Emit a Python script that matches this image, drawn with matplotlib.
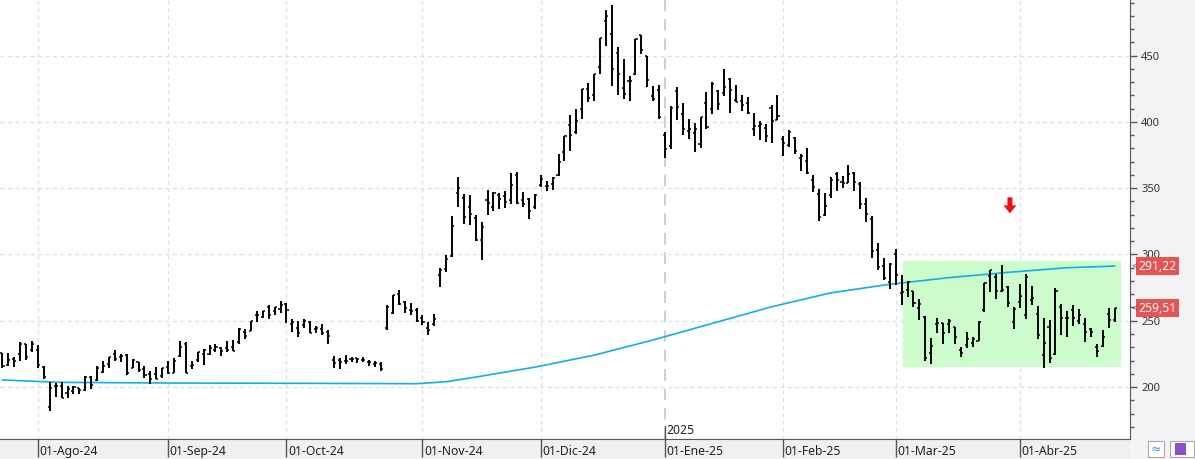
import numpy as np
import pandas as pd
import matplotlib
matplotlib.use("Agg")
import matplotlib.pyplot as plt
import matplotlib.transforms as mtransforms
from matplotlib.patches import Rectangle, Polygon

plt.rcParams["font.family"] = ["Noto Sans", "DejaVu Sans"]

# Daily bars, 24-Jul-2024 .. 24-Apr-2025 (trading days only)
holidays = ["2024-09-02", "2024-11-28", "2024-12-25", "2025-01-01",
            "2025-01-09", "2025-01-20", "2025-02-17", "2025-04-18"]
dates = pd.bdate_range("2024-07-24", "2025-04-24")
dates = dates[~dates.isin(pd.to_datetime(holidays))]

opens = [
    225.4, 216.8, 221.2, 224.9, 232.3, 227.9,
    227.7, 214.9, 185.2, 200.8, 200.8, 195.7, 197.1, 199.0, 198.0, 207.4, 205.0,
    211.2, 217.1, 224.9, 222.7, 223.8, 214.5, 218.8, 213.3, 209.7, 209.8, 208.6,
    215.3, 210.6, 223.5, 232.6, 216.2, 220.1, 224.6, 224.7, 228.0, 229.3, 229.5,
    230.1, 234.0, 241.5, 242.6, 254.1, 252.5, 260.6, 257.4, 259.0,
    262.7, 247.6, 244.5, 246.7, 249.0, 243.6, 243.8, 241.8, 220.1, 220.1, 220.0,
    221.4, 222.0, 220.7, 218.9, 217.3, 217.1, 244.7, 256.0, 270.0, 264.5, 258.0, 258.0,
    252.0, 244.6, 247.3, 284.7, 288.9, 299.1, 346.3, 342.7, 335.9, 327.7, 310.6,
    340.7, 335.5, 345.0, 343.8, 341.1, 360.1, 341.0, 341.8, 336.1,
    352.4, 351.8, 353.0, 359.9, 377.4, 397.6, 392.7, 409.7, 424.8, 420.0, 441.1,
    475.9, 466.5, 451.9, 425.5, 431.0, 435.9, 465.2, 449.5, 419.4, 423.8,
    390.1, 381.5, 423.2, 405.8, 393.0, 391.4, 383.2, 414.3, 409.9, 423.5, 421.5,
    432.6, 416.8, 416.1, 414.5, 394.8, 396.9, 395.2, 410.8, 401.5,
    386.7, 382.6, 387.5, 373.0, 370.2, 356.2, 345.8, 329.9, 345.0, 360.6, 355.0,
    354.0, 361.5, 353.4, 338.1, 327.0, 303.7, 291.2, 279.5,
    300.3, 270.9, 272.9, 272.1, 259.3, 252.5, 225.3, 247.2, 248.1, 247.3, 245.1,
    228.2, 231.6, 233.4, 235.0, 258.1, 283.6, 282.7, 272.5, 275.6, 249.3,
    263.8, 254.6, 265.3, 255.4, 223.8, 245.0, 224.7, 260.0, 251.8, 258.4, 249.9,
    247.6, 243.5, 230.3, 231.0, 254.9, 250.5,
]
highs = [
    226.0, 226.0, 222.3, 234.3, 232.4, 234.7,
    231.9, 216.1, 203.9, 202.9, 203.5, 200.7, 200.7, 199.3, 208.5, 208.4, 215.9,
    219.8, 222.9, 228.2, 224.7, 225.0, 221.5, 219.1, 215.7, 211.8, 214.9, 214.6,
    219.9, 222.2, 235.0, 233.6, 219.9, 226.4, 228.5, 231.5, 232.7, 230.0, 234.6,
    235.7, 244.2, 244.0, 250.0, 257.2, 257.1, 261.8, 260.7, 264.9,
    263.0, 251.2, 249.8, 251.0, 249.8, 246.2, 247.4, 242.8, 223.3, 221.9, 224.0,
    222.8, 222.1, 222.3, 220.5, 219.7, 218.7, 262.1, 269.5, 273.5, 265.0, 263.4, 259.8,
    254.0, 248.9, 255.3, 289.6, 299.8, 328.7, 358.6, 345.8, 344.6, 330.0, 324.7,
    348.6, 347.4, 346.6, 348.0, 361.5, 361.9, 347.0, 342.6, 345.5,
    360.0, 355.7, 358.1, 375.4, 389.5, 404.8, 409.7, 424.9, 429.3, 436.3, 463.2,
    484.0, 488.5, 456.4, 447.1, 434.5, 462.8, 465.3, 450.0, 427.0, 427.9,
    392.7, 411.9, 426.4, 414.3, 402.5, 399.3, 403.8, 422.6, 429.8, 424.0, 439.7,
    433.2, 428.0, 420.0, 418.9, 406.7, 400.6, 398.6, 412.5, 420.0,
    389.2, 394.0, 388.4, 375.4, 380.6, 360.0, 349.4, 346.4, 358.7, 362.0, 359.1,
    367.3, 362.3, 355.0, 342.4, 328.9, 309.0, 297.2, 293.9,
    303.9, 284.4, 279.6, 272.7, 266.3, 253.4, 237.1, 251.8, 248.3, 251.6, 245.4,
    230.1, 241.7, 238.0, 249.5, 278.6, 288.2, 284.9, 291.9, 276.1, 260.6,
    277.5, 285.0, 276.3, 261.0, 252.0, 250.4, 274.7, 262.5, 257.7, 261.8, 258.8,
    251.9, 244.3, 232.2, 242.8, 259.5, 259.5,
]
lows = [
    214.7, 216.2, 215.3, 220.0, 220.4, 226.6,
    214.3, 205.9, 182.0, 192.1, 191.5, 192.0, 195.0, 194.7, 197.1, 198.8, 204.8,
    210.8, 214.1, 219.6, 218.9, 209.4, 214.2, 211.0, 206.9, 202.6, 206.0, 207.0,
    209.6, 210.6, 222.3, 210.5, 213.7, 218.6, 216.8, 223.8, 226.3, 223.5, 226.6,
    226.9, 232.1, 235.9, 241.9, 249.1, 252.3, 251.5, 254.1, 255.8,
    248.5, 241.5, 237.8, 244.6, 240.7, 240.6, 239.5, 232.3, 214.4, 213.7, 217.1,
    218.9, 217.9, 219.0, 215.7, 215.2, 212.1, 242.7, 255.3, 262.2, 255.5, 254.5, 249.3,
    246.6, 238.9, 246.2, 275.6, 287.0, 297.7, 336.0, 323.3, 322.5, 310.4, 296.0,
    330.0, 332.8, 334.3, 335.3, 338.2, 338.2, 335.7, 326.6, 334.0,
    351.2, 348.2, 348.6, 359.5, 370.8, 378.0, 390.9, 402.4, 415.0, 415.7, 436.0,
    457.5, 427.0, 420.0, 417.6, 415.4, 435.1, 451.1, 426.5, 415.8, 402.5,
    373.0, 379.5, 401.7, 390.0, 387.4, 377.3, 380.1, 394.5, 405.7, 409.1, 419.8,
    406.3, 414.6, 408.0, 405.7, 389.0, 386.5, 384.5, 384.4, 401.3,
    374.4, 381.4, 375.5, 363.2, 360.3, 347.0, 325.1, 329.1, 342.9, 347.5, 350.0,
    353.7, 348.0, 334.4, 324.7, 297.3, 288.0, 280.9, 273.6,
    277.3, 261.8, 267.7, 260.0, 250.7, 220.0, 217.0, 241.1, 232.6, 240.7, 232.8,
    222.3, 229.2, 230.1, 234.6, 256.3, 271.3, 266.5, 271.8, 260.6, 243.4,
    259.3, 251.3, 261.5, 236.0, 214.3, 217.8, 223.9, 239.3, 237.6, 245.9, 247.5,
    233.9, 237.7, 222.8, 229.9, 244.4, 249.2,
]
closes = [
    216.0, 220.3, 219.8, 232.1, 222.6, 232.1,
    216.9, 207.7, 198.9, 200.6, 191.8, 198.8, 200.0, 197.5, 207.8, 201.4, 214.1,
    216.1, 222.7, 221.1, 223.3, 210.7, 220.3, 213.2, 209.2, 205.8, 206.3, 214.1,
    210.6, 219.4, 230.2, 210.7, 216.3, 226.2, 228.1, 229.8, 230.3, 226.8, 227.9,
    227.2, 243.9, 238.3, 250.0, 254.3, 257.0, 254.2, 260.5, 261.6,
    258.0, 249.0, 240.7, 250.1, 240.8, 244.5, 241.1, 238.8, 217.8, 219.2, 219.6,
    221.3, 220.9, 220.7, 218.9, 218.0, 213.7, 260.5, 269.2, 262.5, 259.5, 257.6, 249.9,
    249.0, 242.8, 251.4, 288.5, 296.9, 321.2, 350.0, 328.5, 330.2, 311.2, 320.7,
    338.7, 346.0, 342.0, 339.6, 352.6, 338.6, 338.2, 332.9, 345.2,
    357.1, 351.4, 357.9, 369.5, 389.2, 389.8, 401.0, 424.8, 418.1, 436.2, 463.0,
    479.9, 440.1, 436.2, 421.1, 430.6, 462.3, 454.1, 431.7, 417.4, 403.8,
    379.3, 410.4, 411.1, 394.4, 394.9, 394.7, 403.3, 396.4, 428.2, 413.8, 426.5,
    424.1, 415.1, 412.4, 406.6, 397.2, 398.1, 389.1, 400.3, 404.6,
    383.7, 392.2, 378.2, 374.3, 361.6, 350.7, 328.5, 336.5, 355.9, 355.8, 354.1,
    360.6, 354.4, 337.8, 330.5, 302.8, 290.8, 282.0, 293.0,
    284.7, 272.0, 279.1, 263.5, 262.7, 222.2, 230.6, 248.1, 240.7, 250.0, 238.0,
    225.3, 235.9, 236.3, 248.7, 278.4, 288.1, 272.1, 273.1, 263.6, 259.2,
    268.5, 282.8, 267.3, 239.4, 233.3, 221.9, 272.2, 252.4, 252.3, 252.4, 254.1,
    241.6, 241.4, 227.5, 238.0, 250.7, 259.5,
]

# moving average (blue line) read at a few bar positions
ma_idx = [0, 10, 30, 50, 70, 75, 80, 90, 100, 110, 120, 130, 140, 150, 160, 170, 180, 188]
ma_val = [205.3, 203.5, 203.0, 202.8, 202.5, 204.0, 207.5, 215.0, 224.0, 235.5,
          248.0, 260.5, 271.0, 277.5, 282.5, 286.5, 290.0, 291.2]

last_labels = [291.22, 259.51]
meses = ["Ene", "Feb", "Mar", "Abr", "May", "Jun", "Jul", "Ago", "Sep", "Oct", "Nov", "Dic"]

assert len(dates) == len(opens) == len(highs) == len(lows) == len(closes)

x = np.arange(len(dates))
fig = plt.figure(figsize=(11.95, 4.59), dpi=100)
fig.patch.set_facecolor("#f3f3f6")
# bottom band
fig.patches.append(Rectangle((0, 0), 1130 / 1195, 20 / 459, transform=fig.transFigure,
                             facecolor="#f0f0f0", edgecolor="none", zorder=-5))

ax = fig.add_axes([0, 20 / 459, 1130 / 1195, 439 / 459])
ax.set_facecolor("white")
ax.set_xlim(-0.42, 190.6)
ax.set_ylim(160.8, 491.9)

# grid
for v in range(200, 451, 50):
    ax.axhline(v, color="#dedede", lw=0.9, dashes=(3, 3), zorder=1)

month_pos = [i for i in range(1, len(dates)) if dates[i].month != dates[i - 1].month]
for i in month_pos:
    if dates[i].month == 1:
        ax.axvline(i, color="#cfcfcf", lw=1.4, dashes=(6, 4), zorder=1)
    else:
        ax.axvline(i, color="#dedede", lw=0.9, dashes=(3, 3), zorder=1)

# highlight zone
ax.add_patch(Rectangle((152.2, 215.0), 36.9, 80.0, facecolor="#ccfccc",
                       edgecolor="none", zorder=1.5))

# ohlc bars
ax.vlines(x, lows, highs, color="black", lw=1.4, zorder=3)
ax.hlines(opens, x - 0.35, x, color="black", lw=1.1, zorder=3)
ax.hlines(closes, x, x + 0.35, color="black", lw=1.1, zorder=3)

# moving average
ax.plot(ma_idx, ma_val, color="#12aee8", lw=1.2, zorder=2)

# red down arrow (shape in pixels, tip anchored on the price)
tip = mtransforms.ScaledTranslation(170.3, 331.0, ax.transData)
shape = np.array([[-2.5, 16], [2.5, 16], [2.5, 8], [6.5, 8], [0, 0],
                  [-6.5, 8], [-2.5, 8]]) / 100.0
ax.add_patch(Polygon(shape, closed=True, transform=fig.dpi_scale_trans + tip,
                     facecolor="#ee1111", edgecolor="none", zorder=4))

# axes styling
for s in ["top", "left"]:
    ax.spines[s].set_visible(False)
ax.spines["right"].set_color("#555555")
ax.spines["bottom"].set_color("#555555")

ax.yaxis.tick_right()
ax.set_yticks(range(200, 451, 50))
ax.set_yticks(range(170, 491, 10), minor=True)
ax.tick_params(axis="y", which="major", length=5, width=1, color="#555555",
               labelsize=8, labelcolor="#333333", pad=3)
ax.tick_params(axis="y", which="minor", length=3, width=1, color="#555555")

ax.set_xticks(month_pos)
ax.set_xticklabels([])
ax.tick_params(axis="x", length=13, width=1, color="#555555", direction="out")

trans = mtransforms.blended_transform_factory(ax.transData, ax.transAxes)
for i in month_pos:
    d = dates[i]
    lab = "01-%s-%02d" % (meses[d.month - 1], d.year % 100)
    ax.text(i + 0.25, -0.029, lab, transform=trans, ha="left", va="center",
            fontsize=8.8, color="#222222", clip_on=False, zorder=6)
    if d.month == 1:
        ax.plot([i, i], [0, 0.03], transform=trans, color="#555555", lw=1, clip_on=False)
        ax.text(i + 0.25, 0.004, str(d.year), transform=trans, ha="left", va="bottom",
                fontsize=8.8, color="#222222")

# last value labels on the right
ytrans = mtransforms.blended_transform_factory(ax.transAxes, ax.transData)
for v in last_labels:
    ax.text(1.0075, v, ("%.2f" % v).replace(".", ","), transform=ytrans,
            ha="left", va="center", fontsize=8.8, color="white", clip_on=False, zorder=6,
            bbox=dict(boxstyle="square,pad=0.22", facecolor="#e65353", edgecolor="none"))
    ax.text(1.001, v, "<", transform=ytrans,
            ha="left", va="center", fontsize=7, color="#444444", clip_on=False, zorder=6)

# two small buttons bottom right
fig.patches.append(Rectangle((1148 / 1195, 2 / 459), 16 / 1195, 16 / 459, transform=fig.transFigure,
                             facecolor="white", edgecolor="#aaaaaa", lw=0.8))
fig.patches.append(Rectangle((1170 / 1195, 2 / 459), 24 / 1195, 16 / 459, transform=fig.transFigure,
                             facecolor="white", edgecolor="#aaaaaa", lw=0.8))
fig.text(1156 / 1195, 10 / 459, "≈", ha="center", va="center", fontsize=9, color="#4a90d9")
fig.patches.append(Rectangle((1175 / 1195, 4 / 459), 11 / 1195, 12 / 459, transform=fig.transFigure,
                             facecolor="#8a4fc9", edgecolor="none"))

fig.savefig("out.png", dpi=100)
